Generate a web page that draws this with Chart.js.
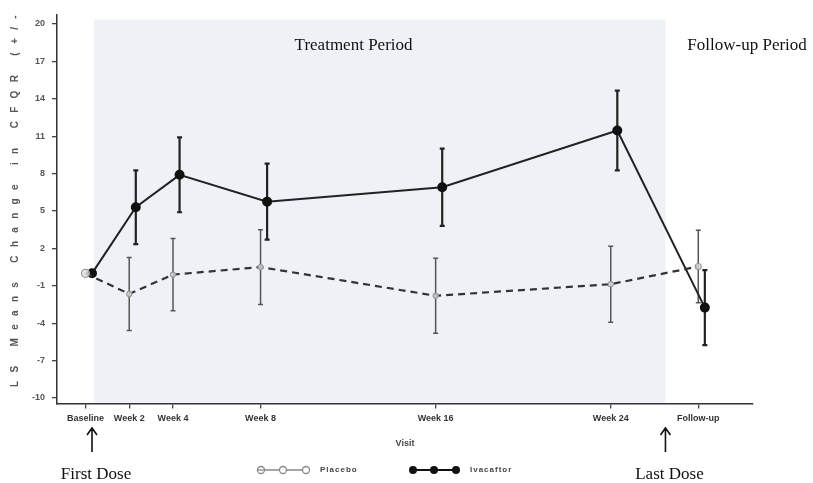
<!DOCTYPE html>
<html>
<head>
<meta charset="utf-8">
<script src="https://cdn.jsdelivr.net/npm/chart.js@4/dist/chart.umd.min.js"></script>
<style>
  html, body { margin: 0; padding: 0; background: #fff; }
  #wrap { width: 813px; height: 483px; }
</style>
</head>
<body>
<div id="wrap"><canvas id="cfqr"></canvas></div>
<script>
//! visits (x in weeks)
var visitLabels = ['Baseline', 'Week 2', 'Week 4', 'Week 8', 'Week 16', 'Week 24', 'Follow-up'];
var visitWeeks = [0, 2, 4, 8, 16, 24, 28];
var yTickValues = [-10, -7, -4, -1, 2, 5, 8, 11, 14, 17, 20];

//! LS means and SE
var placeboMean = [0, -1.65, -0.1, 0.5, -1.8, -0.87, 0.55];
var placeboSE = [0, 2.93, 2.9, 3.0, 3.0, 3.05, 2.9];
var ivacaftorMean = [0, 5.3, 7.9, 5.75, 6.9, 11.45, -2.75];
var ivacaftorSE = [0, 2.95, 3.0, 3.05, 3.1, 3.2, 3.0];

//! shaded treatment period, dose arrows (weeks)
var treatmentStart = 0.4;
var treatmentEnd = 26.5;
var firstDoseWeek = 0.3;
var lastDoseWeek = 26.5;
var ivaOffset = 0.3;   // ivacaftor drawn slightly right of placebo

function toPoints(means, shift) {
    return visitWeeks.map(function (w, i) { return { x: w + shift, y: means[i] }; });
}

var shadePlugin = {
    id: 'shade',
    beforeDraw: function (chart) {
        var ctx = chart.ctx, x = chart.scales.x, y = chart.scales.y;
        ctx.save();
        ctx.fillStyle = '#eef2f6';
        var left = x.getPixelForValue(treatmentStart);
        var right = x.getPixelForValue(treatmentEnd);
        var top = y.getPixelForValue(20.35);
        ctx.fillRect(left, top, right - left, chart.chartArea.bottom - top - 1);
        ctx.restore();
    }
};

var errorBarPlugin = {
    id: 'errorBars',
    beforeDatasetsDraw: function (chart) {
        var ctx = chart.ctx, y = chart.scales.y;
        var seList = [placeboSE, ivacaftorSE];
        chart.data.datasets.forEach(function (ds, di) {
            var meta = chart.getDatasetMeta(di);
            ctx.save();
            ctx.strokeStyle = di === 0 ? '#555' : '#222';
            ctx.lineWidth = di === 0 ? 1.5 : 2.2;
            meta.data.forEach(function (pt, i) {
                var se = seList[di][i];
                if (!se) return;
                var yTop = y.getPixelForValue(ds.data[i].y + se);
                var yBot = y.getPixelForValue(ds.data[i].y - se);
                ctx.beginPath();
                ctx.moveTo(pt.x, yTop); ctx.lineTo(pt.x, yBot);
                ctx.moveTo(pt.x - 2.5, yTop); ctx.lineTo(pt.x + 2.5, yTop);
                ctx.moveTo(pt.x - 2.5, yBot); ctx.lineTo(pt.x + 2.5, yBot);
                ctx.stroke();
            });
            ctx.restore();
        });
    }
};

var notesPlugin = {
    id: 'notes',
    afterDraw: function (chart) {
        var ctx = chart.ctx, x = chart.scales.x, y = chart.scales.y;
        ctx.save();

        //! y title, letter spaced, clipped at the top like the source
        var yTitle = 'LS Means Change in CFQR (+/-';
        ctx.font = 'bold 10px "Liberation Sans", Arial, sans-serif';
        var plain = ctx.measureText(yTitle).width;
        ctx.letterSpacing = ((380 - plain) / yTitle.length).toFixed(2) + 'px';
        ctx.fillStyle = '#555';
        ctx.translate(15, 387);
        ctx.rotate(-Math.PI / 2);
        ctx.textAlign = 'left';
        ctx.textBaseline = 'middle';
        ctx.fillText(yTitle, 0, 0);
        ctx.restore();

        ctx.save();
        ctx.fillStyle = '#111';
        ctx.font = '17px "Liberation Serif", "Times New Roman", serif';
        ctx.textBaseline = 'middle';
        ctx.textAlign = 'center';
        ctx.fillText('Treatment Period', x.getPixelForValue(12.25), y.getPixelForValue(18.3));
        ctx.textAlign = 'left';
        ctx.fillText('Follow-up Period', x.getPixelForValue(27.5), y.getPixelForValue(18.3));

        //! dose arrows
        [[firstDoseWeek, 'First Dose'], [lastDoseWeek, 'Last Dose']].forEach(function (d) {
            var ax = x.getPixelForValue(d[0]);
            ctx.strokeStyle = '#111';
            ctx.lineWidth = 1.6;
            ctx.beginPath();
            ctx.moveTo(ax, 452); ctx.lineTo(ax, 428);
            ctx.moveTo(ax - 5, 435); ctx.lineTo(ax, 428); ctx.lineTo(ax + 5, 435);
            ctx.stroke();
            ctx.textAlign = 'center';
            ctx.textBaseline = 'alphabetic';
            ctx.fillText(d[1], ax + 4, 479);
        });

        //! legend
        var ly = 470;
        ctx.lineWidth = 1.3;
        ctx.strokeStyle = '#888';
        ctx.beginPath();
        ctx.moveTo(264, ly); ctx.lineTo(304, ly);
        ctx.stroke();
        [261, 283, 306].forEach(function (cx, i) {
            ctx.beginPath();
            ctx.arc(cx, ly, 3.5, 0, Math.PI * 2);
            ctx.fillStyle = '#fff';
            if (i > 0) ctx.fill();
            ctx.stroke();
        });
        ctx.beginPath();
        ctx.moveTo(257.5, ly); ctx.lineTo(264.5, ly);
        ctx.stroke();

        ctx.strokeStyle = '#111';
        ctx.fillStyle = '#111';
        ctx.lineWidth = 2;
        ctx.beginPath();
        ctx.moveTo(413, ly); ctx.lineTo(457, ly);
        ctx.stroke();
        [413, 434, 456].forEach(function (cx) {
            ctx.beginPath();
            ctx.arc(cx, ly, 4, 0, Math.PI * 2);
            ctx.fill();
        });

        ctx.font = 'bold 8px "Liberation Sans", Arial, sans-serif';
        ctx.letterSpacing = '1px';
        ctx.fillStyle = '#444';
        ctx.textAlign = 'left';
        ctx.textBaseline = 'middle';
        ctx.fillText('Placebo', 320, ly);
        ctx.fillText('Ivacaftor', 470, ly);
        ctx.restore();
    }
};

document.addEventListener('DOMContentLoaded', function () {
    var ctx = document.getElementById('cfqr').getContext('2d');

    new Chart(ctx, {
        type: 'line',
        data: {
            datasets: [
                {
                    label: 'Placebo',
                    data: toPoints(placeboMean, 0),
                    borderColor: '#333',
                    borderWidth: 2.2,
                    borderDash: [7, 5],
                    pointRadius: [4, 2.5, 2.5, 2.5, 2.5, 2.5, 3],
                    pointBorderColor: '#999',
                    pointBackgroundColor: 'rgba(225,225,225,0.8)',
                    pointBorderWidth: 1.2,
                    fill: false,
                    tension: 0
                },
                {
                    label: 'Ivacaftor',
                    data: toPoints(ivacaftorMean, ivaOffset),
                    borderColor: '#222',
                    borderWidth: 2,
                    pointRadius: 4,
                    pointBorderColor: '#111',
                    pointBackgroundColor: '#111',
                    fill: false,
                    tension: 0
                }]
        },
        options: {
            responsive: true,
            maintainAspectRatio: false,
            animation: false,
            layout: { padding: { top: 15, right: 60, left: 0, bottom: 0 } },
            plugins: {
                legend: { display: false },
                tooltip: { enabled: false }
            },
            scales: {
                x: {
                    type: 'linear',
                    position: 'bottom',
                    min: -1.3,
                    max: 30.5,
                    afterBuildTicks: function (scale) {
                        scale.ticks = visitWeeks.map(function (v) { return { value: v }; });
                    },
                    afterFit: function (scale) { scale.height = 79.5; },
                    ticks: {
                        autoSkip: false,
                        maxRotation: 0,
                        padding: 5,
                        color: '#333',
                        font: { family: '"Liberation Sans", Arial, sans-serif', size: 9, weight: 'bold' },
                        callback: function (v) {
                            var i = visitWeeks.indexOf(v);
                            return i >= 0 ? visitLabels[i] : '';
                        }
                    },
                    grid: { display: true, drawOnChartArea: false, drawTicks: true, tickLength: 5, color: '#444', lineWidth: 1.3 },
                    border: { display: true, color: '#333', width: 1.5 },
                    title: {
                        display: true,
                        text: 'Visit',
                        color: '#444',
                        padding: { top: 0, bottom: 34 },
                        font: { family: '"Liberation Sans", Arial, sans-serif', size: 9, weight: 'bold' }
                    }
                },
                y: {
                    min: -10.44,
                    max: 20.72,
                    afterBuildTicks: function (scale) {
                        scale.ticks = yTickValues.map(function (v) { return { value: v }; });
                    },
                    afterFit: function (scale) { scale.width = 57; },
                    ticks: {
                        padding: 7,
                        color: '#555',
                        font: { family: '"Liberation Sans", Arial, sans-serif', size: 9, weight: 'bold' }
                    },
                    grid: { display: true, drawOnChartArea: false, drawTicks: true, tickLength: 5, color: '#444', lineWidth: 1.3 },
                    border: { display: true, color: '#333', width: 1.5 }
                }
            }
        },
        plugins: [shadePlugin, errorBarPlugin, notesPlugin]
    });
});
</script>
</body>
</html>
